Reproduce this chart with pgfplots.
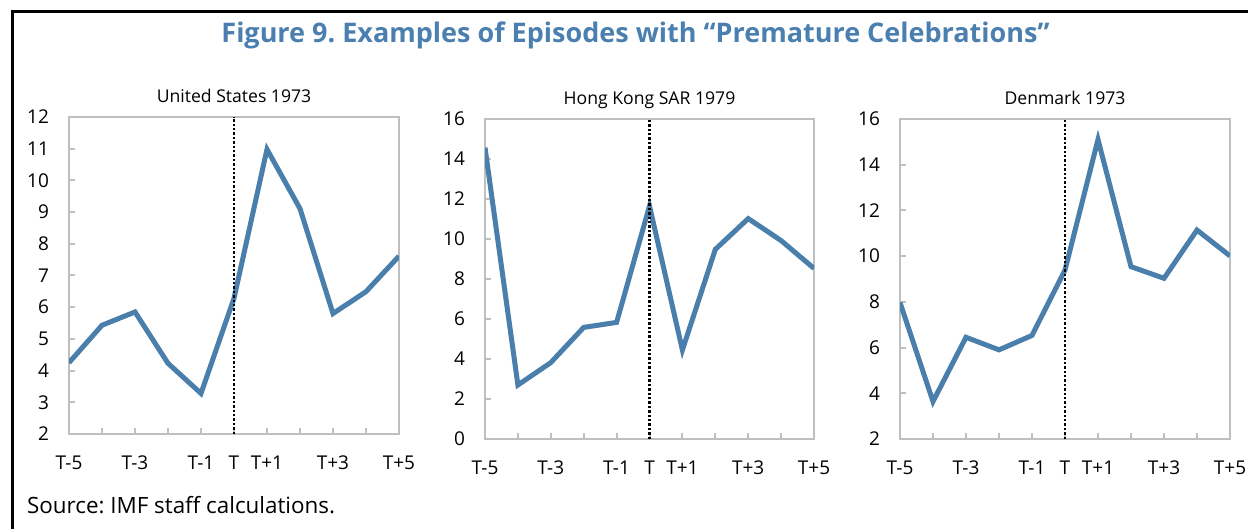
\documentclass[border=0pt]{standalone}
\usepackage{pgfplots}
\pgfplotsset{compat=1.18}
\usepackage{fontspec}
\setmainfont{Open Sans}
\frenchspacing
\definecolor{lineblue}{RGB}{74,126,171}
\definecolor{titleblue}{RGB}{74,127,176}
\definecolor{axgray}{RGB}{191,191,191}
\pgfplotsset{panel/.style={
  scale only axis, anchor=south west,
  xmin=-5, xmax=5, xtick={-5,...,5},
  xticklabels={T-5,,T-3,,T-1,T,T+1,,T+3,,T+5},
  tick align=inside, major tick length=3pt,
  axis line style={axgray, line width=1pt},
  every tick/.style={axgray, line width=1pt},
  ytick pos=left, xtick pos=bottom,
  tick label style={font=\fontsize{9.5}{11}\selectfont, text=black},
  xticklabel style={yshift=-7.5pt},
  yticklabel style={xshift=-6.5pt},
  title style={at={(0.5,1)}, anchor=base, yshift=1pt, font=\fontsize{8.8}{10}\selectfont},
  /pgf/number format/assume math mode=true,
}}
\begin{document}
\frenchspacing
\begin{tikzpicture}
\path[use as bounding box] (0,0) rectangle (624pt,264.5pt);
\draw[line width=1.5pt] (6pt,0) -- (6pt,258.5pt) -- (624pt,258.5pt);
\node[anchor=base, text=titleblue, font=\bfseries\fontsize{13.5}{15}\selectfont] at (317.75pt,243pt) {Figure 9. Examples of Episodes with “Premature Celebrations”};
\node[anchor=base west, font=\fontsize{11.2}{13}\selectfont] at (10pt,7.5pt) {Source: IMF staff calculations.};

\begin{axis}[panel, at={(34.5pt,47.5pt)}, width=165pt, height=158.5pt,
  ymin=2, ymax=12, ytick={2,3,...,12}, title={United States 1973}]
\addplot[lineblue, line width=2.5pt] coordinates {
(-5,4.25) (-4,5.43) (-3,5.85) (-2,4.23) (-1,3.28) (0,6.28) (1,10.98) (2,9.11) (3,5.80) (4,6.49) (5,7.61)};
\addplot[black, densely dotted, line width=1.2pt] coordinates {(0,2) (0,12)};
\end{axis}

\begin{axis}[panel, at={(242.5pt,45pt)}, width=164.5pt, height=160pt,
  ymin=0, ymax=16, ytick={0,2,...,16}, title={Hong Kong SAR 1979}]
\addplot[lineblue, line width=2.5pt] coordinates {
(-5,14.57) (-4,2.70) (-3,3.82) (-2,5.58) (-1,5.83) (0,11.65) (1,4.45) (2,9.48) (3,11.02) (4,9.92) (5,8.53)};
\addplot[black, densely dotted, line width=1.2pt] coordinates {(0,0) (0,16)};
\end{axis}

\begin{axis}[panel, at={(450pt,45pt)}, width=165pt, height=160pt,
  ymin=2, ymax=16, ytick={2,4,...,16}, title={Denmark 1973}]
\addplot[lineblue, line width=2.5pt] coordinates {
(-5,7.97) (-4,3.64) (-3,6.45) (-2,5.90) (-1,6.53) (0,9.39) (1,15.10) (2,9.54) (3,9.03) (4,11.14) (5,10.01)};
\addplot[black, densely dotted, line width=1.2pt] coordinates {(0,2) (0,16)};
\end{axis}
\end{tikzpicture}
\end{document}
